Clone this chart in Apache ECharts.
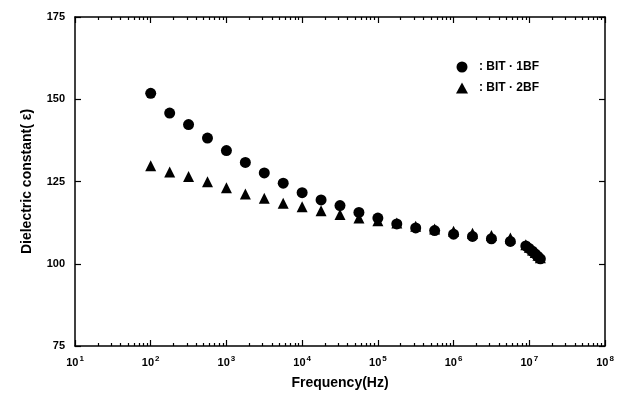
<!DOCTYPE html>
<html>
<head>
<meta charset="utf-8">
<script src="https://cdn.jsdelivr.net/npm/echarts@6/dist/echarts.min.js"></script>
<style>html,body{margin:0;padding:0;background:#fff;}#c{width:627px;height:400px;}</style>
</head>
<body>
<div id="c"></div>
<script>
const freq = [100, 178, 316, 562, 1000, 1778, 3162, 5623, 10000, 17783, 31623, 56234,
  100000, 177828, 316228, 562341, 1000000, 1778279, 3162278, 5623413,
  9000000, 10000000, 11000000, 12000000, 13000000, 14000000];
const bit1bf = [151.8, 145.8, 142.3, 138.2, 134.4, 130.8, 127.6, 124.5, 121.6, 119.4, 117.7, 115.6,
  113.9, 112.1, 110.9, 110.1, 109.0, 108.3, 107.6, 106.8,
  105.4, 104.6, 103.8, 103.0, 102.2, 101.5];
const bit2bf = [129.8, 127.9, 126.5, 124.9, 123.1, 121.2, 119.9, 118.4, 117.3, 116.1, 115.0, 113.9,
  113.1, 112.4, 111.4, 110.6, 109.9, 109.3, 108.6, 107.8,
  105.8, 105.0, 104.2, 103.4, 102.6, 101.8];
const seriesNames = [': BIT · 1BF', ': BIT · 2BF'];
const xMajorTicks = [10, 100, 1000, 10000, 100000, 1000000, 10000000, 100000000];
const xTickExponents = ['1', '2', '3', '4', '5', '6', '7', '8'];
const xMinorTicks = [];
for (let d = 10; d < 1e8; d *= 10) { for (let m = 2; m <= 9; m++) xMinorTicks.push(m * d); }

const FONT = '"Liberation Sans", Arial, sans-serif';
const lineStyle = { color: '#000', width: 1.5 };

function xAxisBase(pos, minor, show) {
  return {
    type: 'log', logBase: 10, min: 10, max: 1e8, position: pos,
    axisLine: { show: show, lineStyle: lineStyle, onZero: false },
    axisTick: { show: true, inside: true, length: minor ? 3 : 6, customValues: minor ? xMinorTicks : xMajorTicks, lineStyle: { color: '#000', width: 1.2 } },
    axisLabel: { show: false },
    splitLine: { show: false },
    minorTick: { show: false }
  };
}

const chart = echarts.init(document.getElementById('c'), null, { renderer: 'canvas' });
const xMain = xAxisBase('bottom', false, true);
xMain.axisLabel = {
  show: true, customValues: xMajorTicks, margin: 9,
  fontFamily: FONT, fontSize: 11, fontWeight: 'bold', color: '#000',
  formatter: function (v) { const i = xMajorTicks.indexOf(Math.round(v)); return i >= 0 ? '{b|10}{s|' + xTickExponents[i] + '}' : ''; },
  rich: {
    b: { fontFamily: FONT, fontSize: 11, fontWeight: 'bold', color: '#000' },
    s: { fontFamily: FONT, fontSize: 8, fontWeight: 'bold', color: '#000', padding: [0, 0, 7, 1] }
  }
};
xMain.name = 'Frequency(Hz)';
xMain.nameLocation = 'middle';
xMain.nameGap = 30;
xMain.nameTextStyle = { fontFamily: FONT, fontSize: 14, fontWeight: 'bold', color: '#000' };

chart.setOption({
  backgroundColor: '#fff',
  animation: false,
  grid: { left: 75, right: 22, top: 17, bottom: 54, containLabel: false },
  legend: {
    orient: 'vertical', left: 451, top: 56, itemWidth: 12, itemHeight: 11, itemGap: 9,
    data: seriesNames,
    textStyle: { fontFamily: FONT, fontSize: 12, fontWeight: 'bold', color: '#000', padding: [0, 0, 0, 6] }
  },
  xAxis: [xMain, xAxisBase('bottom', true, false), xAxisBase('top', false, true), xAxisBase('top', true, false)],
  yAxis: [
    {
      type: 'value', min: 75, max: 175, interval: 25, position: 'left',
      axisLine: { show: true, lineStyle: lineStyle, onZero: false },
      axisTick: { show: true, inside: true, length: 6, lineStyle: { color: '#000', width: 1.2 } },
      axisLabel: { fontFamily: FONT, fontSize: 11, fontWeight: 'bold', color: '#000', margin: 10 },
      splitLine: { show: false },
      name: 'Dielectric constant( ε)', nameLocation: 'middle', nameGap: 41,
      nameTextStyle: { fontFamily: FONT, fontSize: 14, fontWeight: 'bold', color: '#000' }
    },
    {
      type: 'value', min: 75, max: 175, interval: 25, position: 'right',
      axisLine: { show: true, lineStyle: lineStyle, onZero: false },
      axisTick: { show: true, inside: true, length: 6, lineStyle: { color: '#000', width: 1.2 } },
      axisLabel: { show: false },
      splitLine: { show: false }
    }
  ],
  series: [
    {
      name: seriesNames[0], type: 'scatter', symbol: 'circle', symbolSize: 11,
      itemStyle: { color: '#000', opacity: 1 },
      data: freq.map((f, i) => [f, bit1bf[i]])
    },
    {
      name: seriesNames[1], type: 'scatter', symbol: 'triangle', symbolSize: 11,
      itemStyle: { color: '#000', opacity: 1 },
      data: freq.map((f, i) => [f, bit2bf[i]])
    }
  ]
});
</script>
</body>
</html>
